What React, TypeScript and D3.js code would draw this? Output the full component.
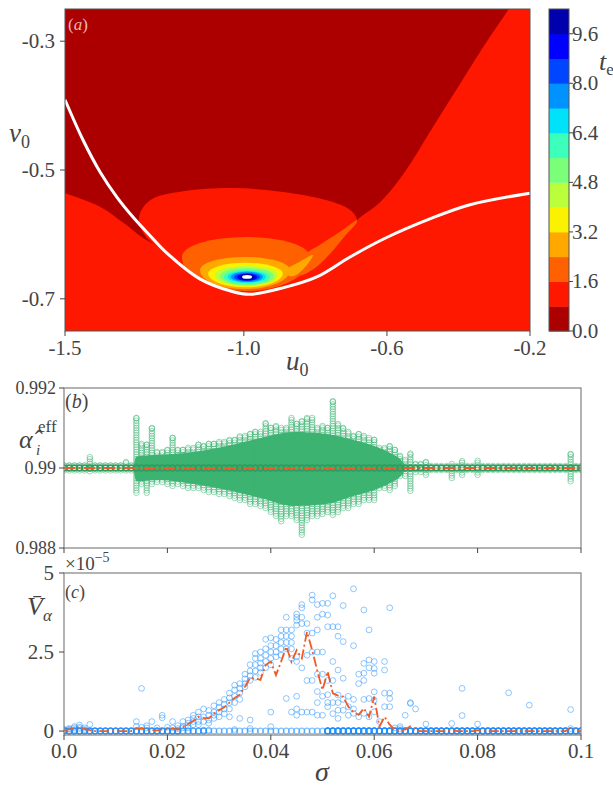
import React from 'react';
import * as d3 from 'd3';

const W = 613;
const H = 787;
const SERIF = "'Liberation Serif', 'DejaVu Serif', 'Noto Serif', serif";
const INK = '#444444';

type P = [number, number];

/* ---------------- (a) escape-time map t_e(u0, v0) ---------------- */
const teLevelStep = 0.8;
const teLevelCount = 13; // filled bands 0 .. 10.4
const teTicks = [0, 1.6, 3.2, 4.8, 6.4, 8.0, 9.6];
const u0Ticks = [-1.5, -1.0, -0.6, -0.2];
const v0Ticks = [-0.3, -0.5, -0.7];
const u0Domain: P = [-1.5, -0.2];
const v0Domain: P = [-0.75, -0.25];

// lower edge of the fastest-escape zone (t_e < 0.8): left branch
const fastEdgeLeft: P[] = [[-1.5, -0.536], [-1.402, -0.557], [-1.332, -0.584], [-1.262, -0.612]];
// continuation of that edge underneath the basin
const fastEdgeHidden: P[] = [[-1.123, -0.632], [-0.843, -0.632], [-0.717, -0.601]];
// right branch, from the basin corner up to the top of the frame
const fastEdgeRight: P[] = [
  [-0.684, -0.578], [-0.619, -0.55], [-0.55, -0.503], [-0.48, -0.441],
  [-0.41, -0.379], [-0.34, -0.317], [-0.259, -0.25],
];
// rim of the basin where escape takes longer (closed outline)
const basinRim: P[] = [
  [-0.684, -0.578], [-0.703, -0.562], [-0.768, -0.547], [-0.891, -0.534],
  [-1.03, -0.528], [-1.17, -0.533], [-1.262, -0.547], [-1.293, -0.573],
  [-1.276, -0.602], [-1.22, -0.624], [-0.983, -0.652], [-0.731, -0.616],
];
// nested level sets around the slowest point
const ringBand = [2, 3, 4, 5, 6, 7, 8, 9, 10, 11, 12, 13];
const ringLeft = [-1.173, -1.123, -1.1, -1.081, -1.067, -1.056, -1.045, -1.036, -1.028, -1.019, -1.012, -1.005];
const ringRight = [-0.815, -0.871, -0.891, -0.905, -0.916, -0.927, -0.938, -0.947, -0.955, -0.963, -0.97, -0.977];
const ringTop = [-0.604, -0.635, -0.644, -0.649, -0.652, -0.655, -0.657, -0.658, -0.66, -0.661, -0.661, -0.663];
const ringMid = [-0.635, -0.655, -0.661, -0.663, -0.665, -0.666, -0.666, -0.666, -0.666, -0.666, -0.666, -0.666];
const ringBottom = [-0.688, -0.685, -0.682, -0.68, -0.679, -0.677, -0.675, -0.674, -0.672, -0.672, -0.671, -0.669];
// thin tongues along the fold running to the basin corner
const foldBand2: P[] = [
  [-0.684, -0.578], [-0.731, -0.596], [-0.787, -0.616], [-0.829, -0.632],
  [-0.843, -0.663], [-0.801, -0.652], [-0.759, -0.63], [-0.717, -0.602], [-0.684, -0.581],
];
const foldBand3: P[] = [
  [-0.891, -0.658], [-0.849, -0.644], [-0.807, -0.632], [-0.826, -0.649], [-0.863, -0.665],
];
// separatrix (white curve)
const separatrix: P[] = [
  [-1.5, -0.391], [-1.45, -0.453], [-1.402, -0.503], [-1.355, -0.542], [-1.31, -0.573],
  [-1.262, -0.602], [-1.215, -0.629], [-1.123, -0.669], [-1.03, -0.689], [-0.983, -0.693],
  [-0.891, -0.683], [-0.796, -0.666], [-0.703, -0.635], [-0.605, -0.606], [-0.48, -0.576],
  [-0.368, -0.554], [-0.2, -0.536],
];

/* ---------------- (b) effective alpha per agent ---------------- */
const sigmaTicks = [0, 0.02, 0.04, 0.06, 0.08, 0.1];
const sigmaTickLabels = ['0.0', '0.02', '0.04', '0.06', '0.08', '0.1'];
const alphaTicks = [0.988, 0.99, 0.992];
const alphaTickLabels = ['0.988', '0.99', '0.992'];
const alphaTarget = 0.99;
// extreme deviations per sigma column (units of 1e-4)
const alphaDevMax = [
  0.6, 0.6, 0.6, 0.6, 0.6, 2.7, 0.6, 0.6, 0.6, 0.6,
  0.6, 0.6, 1.5, 0.6, 12.5, 6, 5.8, 10, 4, 4,
  4.5, 7.5, 4.5, 4.5, 5, 5, 5.8, 5.5, 6, 6,
  6.5, 6.5, 7, 7, 7.9, 8, 8.5, 9, 9, 11.2,
  10, 10.5, 10, 10, 12.5, 11, 11.7, 12.5, 12.5, 10,
  10.5, 10, 16.7, 11, 10, 9, 8, 8.5, 8, 7.5,
  7, 5, 5, 5.5, 4.5, 3, 2, 3.6, 1, 1,
  1.5, 0.5, 0.5, 0.5, 0.5, 1, 0.5, 1.7, 0.5, 0.5,
  1.8, 0.5, 0.5, 0.5, 0.5, 0.5, 0.5, 0.5, 0.5, 0.5,
  0.5, 0.5, 0.5, 0.5, 0.5, 0.5, 0.5, 0.5, 3.5, 0.5, 0.5,
];
const alphaDevMin = [
  -0.6, -0.6, -0.6, -0.6, -0.6, -0.8, -0.6, -0.6, -0.6, -0.6,
  -0.6, -0.6, -0.6, -0.6, -6.2, -4, -6.2, -4, -3.5, -3.5,
  -4, -4.5, -4, -4.5, -5, -5, -5, -5.5, -6, -6,
  -6.5, -6.5, -7, -7.5, -8, -8, -9, -9, -9.5, -10,
  -11, -12, -13.3, -12, -12, -13, -16.7, -13, -12, -12,
  -11.5, -11, -11.7, -11, -10, -10, -9, -9, -8, -8,
  -8, -5, -5, -5.5, -4.5, -2, -2, -5.7, -1, -1,
  -1.7, -0.5, -0.5, -0.5, -0.5, -2.5, -0.5, -1.7, -0.5, -0.5,
  -1.7, -0.5, -0.5, -0.5, -0.5, -0.5, -0.5, -0.5, -0.5, -0.5,
  -0.5, -0.5, -0.5, -0.5, -0.5, -0.5, -0.5, -0.5, -3.3, -0.5, -0.5,
];
// envelope of the dense core (units of 1e-4)
const coreSigma = [0.0135, 0.014, 0.0186, 0.025, 0.0315, 0.038, 0.0444, 0.0508, 0.056, 0.06, 0.063, 0.0655, 0.066];
const coreUpper = [0.6, 2.9, 3.3, 4, 5.5, 7.5, 9, 8.5, 7, 5.5, 3.8, 1.5, 0.6];
const coreLower = [-0.6, -3.3, -3, -4, -5.5, -7.5, -9.5, -9, -7, -5.5, -3.8, -1.5, -0.6];

/* ---------------- (c) variance of alpha (units of 1e-5) ---------------- */
const varTicks = [0, 2.5, 5];
const varTickLabels = ['0', '2.5', '5'];
const varScatter: number[][] = [
  [0.03, 0.06], [0.06, 0.08], [0.1, 0.14, 0.05], [0.19, 0.12, 0.08], [0.1, 0.05], [0.21],
  [], [], [], [], [], [], [], [],
  [0.3, 0.15], [1.35, 0.12], [0.17, 0.1], [0.3], [0.1], [0.5, 0.42],
  [0.12], [0.3, 0.1], [0.17, 0.08], [0.3, 0.15, 0.1], [0.35, 0.25, 0.15, 0.1],
  [0.5, 0.4, 0.3, 0.2], [0.6, 0.45, 0.3, 0.2], [0.7, 0.45, 0.3, 0.03], [0.65, 0.5, 0.35, 0.25, 0.03],
  [0.8, 0.6, 0.5, 0.4], [0.9, 0.75, 0.6, 0.45], [1.0, 0.85, 0.7, 0.55],
  [1.2, 1.05, 0.9, 0.7, 0.45], [1.45, 1.3, 1.1, 0.9, 0.05], [1.5, 1.35, 1.2, 1.0, 0.4],
  [1.8, 1.65, 1.5, 1.4], [2.1, 1.9, 1.75, 1.6, 0.35, 0.08], [2.45, 2.3, 2.1, 1.9, 1.7],
  [2.5, 2.3, 2.15, 2.0, 1.85], [2.9, 2.6, 2.4, 2.2, 2.0],
  [2.95, 2.7, 2.5, 2.3, 2.1, 0.6, 0.14], [2.9, 2.7, 2.5, 2.35], [3.2, 3.0, 2.8, 2.6, 2.4],
  [3.6, 3.2, 3.0, 2.8, 2.6, 1.03], [3.2, 3.0, 2.8, 2.6, 2.3, 0.6],
  [3.7, 3.6, 3.5, 3.35, 2.35, 2.2, 1.1, 0.7, 0.5], [4.0, 3.9, 3.6, 3.4, 2.0, 0.6],
  [3.4, 3.1, 2.4, 1.6, 0.6], [4.3, 4.15, 3.1, 2.5, 1.6, 0.6],
  [4.0, 3.6, 3.2, 2.5, 1.8, 1.25, 0.9, 0.5], [4.04, 3.7, 2.5, 1.8, 1.1, 0.5],
  [4.04, 3.67, 3.3, 1.6, 1.15, 0.9, 0.77], [4.28, 3.3, 2.2, 1.6, 0.9, 0.55],
  [3.3, 3.0, 1.93, 1.14, 0.9, 0.66, 0.4], [3.97, 2.83, 1.67, 1.0, 0.66], [1.1, 0.77, 0.5],
  [4.5, 2.7, 1.0, 0.7, 0.56], [1.8, 1.5, 0.45], [3.83, 2.14, 1.83, 1.6, 1.0, 0.56],
  [3.2, 2.25, 2.0, 1.03, 0.45], [2.2, 1.98, 1.83, 1.24, 0.98, 0.61], [0.3],
  [2.2, 1.93, 1.2, 0.77], [3.9, 1.2, 1.03, 0.77], [0.1], [0.14, 0.08], [0.5],
  [0.9, 0.87], [0.7], [], [0.22], [], [], [], [], [0.24], [], [1.35, 0.49], [], [],
  [0.22], [], [], [], [], [], [1.21], [], [], [], [0.82], [], [], [], [], [], [], [],
  [0.68, 0.08], [], [],
];
// agents sitting exactly at zero, per sigma column
const varZeroCount = [
  4, 4, 4, 4, 4, 4, 4, 4, 4, 4, 4, 4, 4, 4, 4, 4, 4, 4, 4, 4,
  4, 4, 4, 2, 2, 2, 2, 2, 1, 1, 1, 1, 1, 1, 1, 1, 1, 1, 1, 1,
  1, 1, 1, 1, 1, 1, 1, 1, 1, 1, 1, 6, 6, 6, 6, 6, 6, 6, 6, 6,
  6, 6, 6, 6, 6, 6, 6, 6, 6, 6, 6, 6, 6, 6, 6, 6, 6, 6, 6, 6,
  6, 6, 6, 6, 6, 6, 6, 6, 6, 6, 6, 6, 6, 6, 6, 6, 6, 6, 6, 6, 6,
];
// population mean per sigma column
const varMean = [
  0.02, 0.05, 0.08, 0.12, 0.06, 0.03, 0, 0, 0, 0,
  0, 0, 0, 0, 0.08, 0.08, 0.05, 0.03, 0.02, 0.05,
  0.06, 0.07, 0.05, 0.12, 0.22, 0.32, 0.45, 0.42, 0.4, 0.55,
  0.66, 0.75, 0.9, 1.05, 1.15, 1.4, 1.68, 1.66, 1.62, 2.09,
  2.2, 1.77, 2.2, 2.67, 2.19, 2.56, 2.3, 3.14, 2.56, 1.9,
  1.3, 1.88, 1.19, 1.12, 1.09, 0.77, 0.6, 0.51, 0.72, 0.45,
  1.09, 0.14, 0.45, 0.2, 0.03, 0.02, 0.05, 0.15, 0.02, 0,
  0, 0, 0, 0, 0, 0.05, 0, 0, 0, 0,
  0.03, 0, 0, 0, 0, 0, 0, 0, 0, 0,
  0, 0, 0, 0, 0, 0, 0, 0, 0.1, 0.02, 0,
];

/* ---------------- colours ---------------- */
const jetR = d3.scaleLinear([0, 0.35, 0.66, 0.89, 1], [0, 0, 1, 1, 0.5]).clamp(true);
const jetG = d3.scaleLinear([0, 0.125, 0.375, 0.64, 0.91, 1], [0, 0, 1, 1, 0, 0]).clamp(true);
const jetB = d3.scaleLinear([0, 0.11, 0.34, 0.65, 1], [0.5, 1, 1, 0, 0]).clamp(true);
const jetReversed = (t: number) => {
  const s = 1 - t;
  return d3.rgb(255 * jetR(s), 255 * jetG(s), 255 * jetB(s)).formatHex();
};
const bandColor = (k: number) => (k >= teLevelCount ? '#ffffff' : jetReversed((k + 0.5) / teLevelCount));
const GREEN = '#3cb371';
const BLUE = '#1e90ff';
const MEAN = '#f05a28';

const serifStyle = { fontFamily: SERIF };

function Sub({ x, y, main, sub, size, subSize, dy }: any) {
  return (
    <text x={x} y={y} style={serifStyle} fontSize={size} fill={INK}>
      <tspan fontStyle="italic">{main}</tspan>
      <tspan fontSize={subSize} dy={dy}>{sub}</tspan>
    </text>
  );
}

export default function App() {
  /* panel (a) */
  const aL = 65, aR = 530, aT = 9, aB = 331;
  const xA = d3.scaleLinear(u0Domain, [aL, aR]);
  const yA = d3.scaleLinear(v0Domain, [aB, aT]);
  const open = d3.line<P>().x((p) => xA(p[0])).y((p) => yA(p[1])).curve(d3.curveCatmullRom.alpha(0.5));
  const closed = d3.line<P>().x((p) => xA(p[0])).y((p) => yA(p[1])).curve(d3.curveCatmullRomClosed.alpha(0.5));
  const fastEdge = [...fastEdgeLeft, ...fastEdgeHidden, ...fastEdgeRight];
  const lowerZone =
    open(fastEdge) +
    `L${xA(u0Domain[1])},${yA(v0Domain[1])}L${xA(u0Domain[1])},${yA(v0Domain[0])}L${xA(u0Domain[0])},${yA(v0Domain[0])}Z`;
  const ringPath = (i: number) => {
    const x0 = xA(ringLeft[i]);
    const x1 = xA(ringRight[i]);
    const cy = yA(ringMid[i]);
    const rx = (x1 - x0) / 2;
    const ryT = Math.abs(yA(ringTop[i]) - cy);
    const ryB = Math.abs(yA(ringBottom[i]) - cy);
    return `M${x0},${cy}A${rx},${ryT} 0 0 1 ${x1},${cy}A${rx},${ryB} 0 0 1 ${x0},${cy}Z`;
  };
  const cbL = 549, cbR = 569;
  const yCb = d3.scaleLinear([0, teLevelStep * teLevelCount], [aB, aT]);

  /* shared sigma axis for (b) and (c) */
  const sL = 64, sR = 581;
  const xS = d3.scaleLinear([0, 0.1], [sL, sR]);
  const sigmaGrid = alphaDevMax.map((_, k) => k / 1000);

  /* panel (b) */
  const bT = 388, bB = 548;
  const yB = d3.scaleLinear([0.988, 0.992], [bB, bT]);
  const core = d3
    .area<number>()
    .x((i) => xS(coreSigma[i]))
    .y0((i) => yB(alphaTarget + coreLower[i] * 1e-4))
    .y1((i) => yB(alphaTarget + coreUpper[i] * 1e-4))
    .curve(d3.curveMonotoneX)(coreSigma.map((_, i) => i));
  const fringe: { x: number; y: number }[] = [];
  sigmaGrid.forEach((s, k) => {
    for (let d = alphaDevMin[k]; d <= alphaDevMax[k] + 1e-9; d += 0.6) {
      fringe.push({ x: xS(s), y: yB(alphaTarget + d * 1e-4) });
    }
    fringe.push({ x: xS(s), y: yB(alphaTarget + alphaDevMax[k] * 1e-4) });
  });

  /* panel (c) */
  const cT = 573, cB = 735;
  const yC = d3.scaleLinear([-0.125, 5], [cB, cT]);
  const cDots: { x: number; y: number }[] = [];
  const cZeros: { x: number; y: number }[] = [];
  sigmaGrid.forEach((s, k) => {
    varScatter[k].forEach((v) => cDots.push({ x: xS(s), y: yC(v) }));
    for (let j = 0; j < varZeroCount[k]; j++) cZeros.push({ x: xS(s), y: yC(0) });
  });
  const meanLine = d3
    .line<number>()
    .x((s) => xS(s))
    .y((_, k) => yC(varMean[k]))(sigmaGrid);

  const tickFont = { style: serifStyle, fill: INK };

  return (
    <svg width={W} height={H} style={{ position: 'absolute', left: 0, top: 0, background: '#fff' }}>
      <defs>
        <clipPath id="clipA"><rect x={aL} y={aT} width={aR - aL} height={aB - aT} /></clipPath>
        <clipPath id="clipB"><rect x={sL} y={bT} width={sR - sL} height={bB - bT} /></clipPath>
        <clipPath id="clipC"><rect x={sL} y={cT} width={sR - sL} height={cB - cT} /></clipPath>
      </defs>

      {/* ---------- (a) ---------- */}
      <g clipPath="url(#clipA)">
        <rect x={aL} y={aT} width={aR - aL} height={aB - aT} fill={bandColor(0)} />
        <path d={lowerZone} fill={bandColor(1)} />
        <path d={closed(basinRim) as string} fill={bandColor(1)} />
        {ringBand.map((b, i) => (
          <g key={i}>
            <path d={ringPath(i)} fill={bandColor(b)} />
            {b === 2 && <path d={closed(foldBand2) as string} fill={bandColor(2)} />}
            {b === 3 && <path d={closed(foldBand3) as string} fill={bandColor(3)} />}
          </g>
        ))}
        <path d={open(separatrix) as string} fill="none" stroke="#fff" strokeWidth={3} />
      </g>
      <rect x={aL} y={aT} width={aR - aL} height={aB - aT} fill="none" stroke="#555" strokeWidth={1} />
      <text x={68} y={30} style={serifStyle} fontSize={17} fill="#fff" fillOpacity={0.72}>
        (<tspan fontStyle="italic">a</tspan>)
      </text>
      {u0Ticks.map((t) => (
        <g key={t}>
          <line x1={xA(t)} x2={xA(t)} y1={aB} y2={aB + 5} stroke={INK} />
          <text x={xA(t)} y={355} textAnchor="middle" fontSize={21} {...tickFont}>{t.toFixed(1)}</text>
        </g>
      ))}
      {v0Ticks.map((t) => (
        <g key={t}>
          <line x1={aL - 5} x2={aL} y1={yA(t)} y2={yA(t)} stroke={INK} />
          <text x={55} y={yA(t) + 7} textAnchor="end" fontSize={21} {...tickFont}>{t.toFixed(1)}</text>
        </g>
      ))}
      <Sub x={286} y={370} main="u" sub="0" size={27} subSize={18} dy={6} />
      <Sub x={9} y={142} main="v" sub="0" size={27} subSize={18} dy={6} />

      {/* colour bar */}
      {d3.range(teLevelCount).map((k) => (
        <rect key={k} x={cbL} width={cbR - cbL}
          y={yCb((k + 1) * teLevelStep)} height={yCb(k * teLevelStep) - yCb((k + 1) * teLevelStep) + 0.5}
          fill={bandColor(k)} />
      ))}
      <rect x={cbL} y={aT} width={cbR - cbL} height={aB - aT} fill="none" stroke="#555" strokeWidth={1} />
      {teTicks.map((t) => (
        <g key={t}>
          <line x1={cbR} x2={cbR + 4} y1={yCb(t)} y2={yCb(t)} stroke={INK} />
          <text x={572} y={yCb(t) + 7} fontSize={21} {...tickFont}>{t.toFixed(1)}</text>
        </g>
      ))}
      <Sub x={599} y={70} main="t" sub="e" size={26} subSize={17} dy={5} />

      {/* ---------- (b) ---------- */}
      <g clipPath="url(#clipB)">
        <path d={core as string} fill={GREEN} />
        {fringe.map((p, i) => (
          <circle key={i} cx={p.x} cy={p.y} r={2.8} fill="none" stroke={GREEN} strokeOpacity={0.5} strokeWidth={1} />
        ))}
        {sigmaGrid.map((s, k) => (
          <circle key={k} cx={xS(s)} cy={yB(alphaTarget)} r={2.9} fill="none"
            stroke="#2e9d5e" strokeWidth={1.6} />
        ))}
        <line x1={sL} x2={sR} y1={yB(alphaTarget)} y2={yB(alphaTarget)} stroke={MEAN} strokeWidth={2}
          strokeDasharray="11,3.5,2,3.5" />
      </g>
      <rect x={sL} y={bT} width={sR - sL} height={bB - bT} fill="none" stroke="#808080" strokeWidth={1.2} />
      {sigmaTicks.map((t) => (
        <line key={t} x1={xS(t)} x2={xS(t)} y1={bB} y2={bB + 5} stroke={INK} />
      ))}
      {alphaTicks.map((t, i) => (
        <g key={t}>
          <line x1={sL - 5} x2={sL} y1={yB(t)} y2={yB(t)} stroke={INK} />
          <text x={56} y={yB(t) + 6} textAnchor="end" fontSize={18} {...tickFont}>{alphaTickLabels[i]}</text>
        </g>
      ))}
      <text x={65} y={408} style={serifStyle} fontSize={20} fill={INK}>
        (<tspan fontStyle="italic">b</tspan>)
      </text>
      <text x={19} y={448} style={serifStyle} fontSize={26} fill={INK} fontStyle="italic">α̂</text>
      <text x={36} y={455} style={serifStyle} fontSize={15} fill={INK} fontStyle="italic">i</text>
      <text x={38} y={432} style={serifStyle} fontSize={17} fill={INK}>eff</text>

      {/* ---------- (c) ---------- */}
      <g clipPath="url(#clipC)">
        {cZeros.map((p, i) => (
          <circle key={'z' + i} cx={p.x} cy={p.y} r={2.9} fill="none" stroke={BLUE} strokeOpacity={0.55} strokeWidth={1.2} />
        ))}
        {cDots.map((p, i) => (
          <circle key={i} cx={p.x} cy={p.y} r={2.9} fill="none" stroke={BLUE} strokeOpacity={0.5} strokeWidth={1} />
        ))}
        <path d={meanLine as string} fill="none" stroke={MEAN} strokeWidth={1.8} strokeDasharray="10,3,2,3" />
      </g>
      <rect x={sL} y={cT} width={sR - sL} height={cB - cT} fill="none" stroke="#808080" strokeWidth={1.2} />
      {sigmaTicks.map((t, i) => (
        <g key={t}>
          <line x1={xS(t)} x2={xS(t)} y1={cB} y2={cB + 5} stroke={INK} />
          <text x={xS(t)} y={758} textAnchor="middle" fontSize={21} {...tickFont}>{sigmaTickLabels[i]}</text>
        </g>
      ))}
      {varTicks.map((t, i) => (
        <g key={t}>
          <line x1={sL - 5} x2={sL} y1={yC(t)} y2={yC(t)} stroke={INK} />
          <text x={54} y={yC(t) + 7} textAnchor="end" fontSize={21} {...tickFont}>{varTickLabels[i]}</text>
        </g>
      ))}
      <text x={65} y={570} style={serifStyle} fontSize={19} fill={INK}>
        ×10<tspan fontSize={14} dy={-8}>−5</tspan>
      </text>
      <text x={65} y={598} style={serifStyle} fontSize={18} fill={INK}>
        (<tspan fontStyle="italic">c</tspan>)
      </text>
      <text x={27} y={615} style={serifStyle} fontSize={26} fill={INK}>
        <tspan fontStyle="italic">V̄</tspan>
        <tspan fontSize={17} fontStyle="italic" dy={6}>α</tspan>
      </text>
      <text x={322} y={781} textAnchor="middle" style={serifStyle} fontSize={28} fill={INK} fontStyle="italic">σ</text>
    </svg>
  );
}
